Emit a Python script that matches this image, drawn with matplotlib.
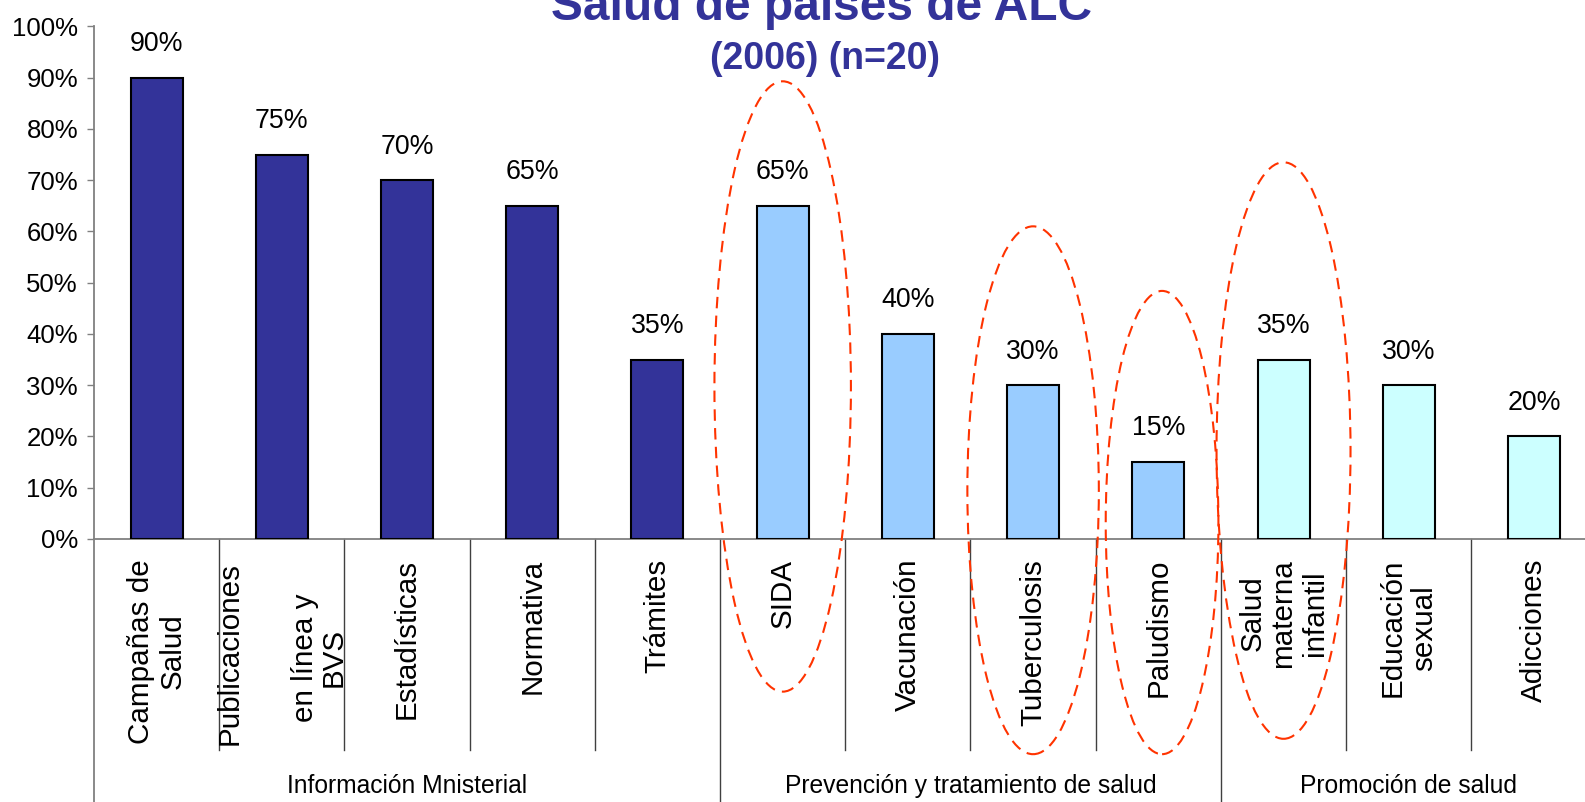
import numpy as np
import matplotlib.pyplot as plt
from matplotlib.patches import Ellipse
from matplotlib.ticker import FuncFormatter

plt.rcParams['font.family'] = ['Liberation Sans', 'DejaVu Sans']

# datos
categorias = ["Campañas de\nSalud", "", "Estadísticas", "Normativa", "Trámites",
              "SIDA", "Vacunación", "Tuberculosis", "Paludismo",
              "Salud\nmaterna\ninfantil", "Educación\nsexual", "Adicciones"]
valores = [90, 75, 70, 65, 35, 65, 40, 30, 15, 35, 30, 20]
grupos = ["Información Mnisterial", "Prevención y tratamiento de salud", "Promoción de salud"]
n_por_grupo = [5, 4, 3]
colores_grupo = ['#333399', '#99CCFF', '#CCFFFF']

# elipses rojas: (indice, ancho, arriba, abajo)
elipses = [(5, 1.09, 89.3, -29.8),
           (7, 1.05, 61.0, -42.0),
           (8.03, 0.90, 48.4, -42.0),
           (9, 1.07, 73.5, -39.0)]

fig = plt.figure(figsize=(15.85, 8.02), dpi=100)
ax = fig.add_axes([0.0593, 0.328, 0.948, 0.639])

x = np.arange(len(valores))
colores = []
for c, n in zip(colores_grupo, n_por_grupo):
    colores += [c] * n

ax.bar(x, valores, width=0.415, color=colores, edgecolor='black', linewidth=1.5, zorder=3)

for xi, v in zip(x, valores):
    ax.text(xi, v + 5.2, f"{v}%", ha='center', va='baseline', fontsize=19.3)

ax.set_xlim(-0.5, 11.5)
ax.set_ylim(0, 100)
ax.set_yticks(range(0, 101, 10))
ax.yaxis.set_major_formatter(FuncFormatter(lambda v, p: f"{int(v)}%"))
ax.tick_params(axis='y', labelsize=18.5, length=5, width=1, color='#808080', pad=6.5)
ax.set_xticks([])

for s in ['top', 'right']:
    ax.spines[s].set_visible(False)
ax.spines['bottom'].set_color('#808080')
ax.spines['left'].set_color('#808080')
ax.spines['bottom'].set_linewidth(1.3)
ax.spines['left'].set_linewidth(1.3)

# etiquetas de categorias (rotadas)
for xi, lab in zip(x, categorias):
    if lab:
        ax.text(xi, -3.9, lab, rotation=90, ha='center', va='top', multialignment='center',
                fontsize=21.3, linespacing=1.15, clip_on=False)
ax.text(1 - 0.42, -4.5, "Publicaciones", rotation=90, ha='center', va='top', fontsize=21.3, clip_on=False)
ax.text(1 + 0.30, -23.2, "en línea y\nBVS", rotation=90, ha='center', va='center',
        multialignment='center', fontsize=21.3, linespacing=1.0, clip_on=False)

# separadores
limites = np.cumsum(n_por_grupo)[:-1] - 0.5
for b in np.arange(0.5, 11.5, 1):
    fondo = -53.5 if b in limites else -41.1
    ax.plot([b, b], [0, fondo], color='#404040', lw=1, clip_on=False)
ax.plot([-0.5, -0.5], [0, -53.5], color='#808080', lw=1.3, clip_on=False)

# etiquetas de grupo
inicio = -0.5
for g, n in zip(grupos, n_por_grupo):
    ax.text(inicio + n / 2, -49.6, g, ha='center', va='baseline', fontsize=17.7, clip_on=False)
    inicio += n

# elipses
for cx, w, top, bot in elipses:
    e = Ellipse((cx, (top + bot) / 2), w, top - bot, fill=False, edgecolor='#FF3300',
                linewidth=1.5, linestyle=(0, (5.5, 3.5)), clip_on=False, zorder=4)
    ax.add_patch(e)

fig.text(0.518, 0.975, "Salud de países de ALC", ha='center', va='baseline',
         fontsize=34.5, fontweight='bold', color='#333399')
fig.text(0.5205, 0.914, "(2006) (n=20)", ha='center', va='baseline',
         fontsize=27, fontweight='bold', color='#333399')

fig.savefig('out.png', dpi=100)
